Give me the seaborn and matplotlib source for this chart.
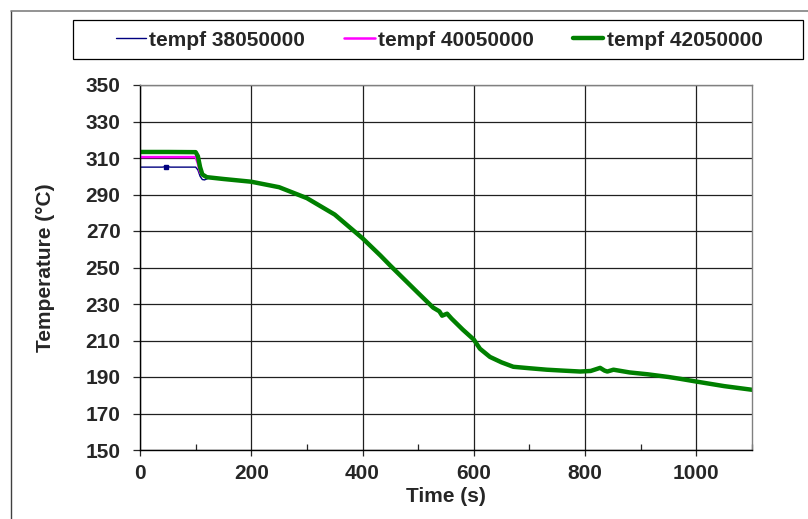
import matplotlib
matplotlib.use("Agg")
import matplotlib.pyplot as plt
from matplotlib.lines import Line2D
from matplotlib.patches import Rectangle
from matplotlib.ticker import MultipleLocator
import seaborn as sns
import pandas as pd

# data
t_38 = [0, 20, 40, 47, 55, 80, 100, 104, 108, 112, 116, 122, 130]
temp_38 = [305, 305, 305, 305.3, 305, 305, 305, 303.5, 300, 298.2, 298, 298.8, 299.2]

t_40 = [0, 50, 100, 104, 108, 114, 122, 130]
temp_40 = [310.5, 310.5, 310.5, 307, 302, 300, 299.5, 299.2]

t_42 = [0, 50, 100, 104, 108, 112, 120, 150, 200, 250, 300, 350, 400, 432,
        450, 500, 527, 538, 543, 552, 560, 570, 580, 600, 611, 629, 650, 671,
        700, 731, 760, 791, 810, 827, 835, 840, 851, 880, 912, 950, 971, 1000,
        1050, 1100]
temp_42 = [313.3, 313.3, 313.2, 311, 305, 301, 299.5, 298.5, 297, 294, 288,
           279, 266, 256.6, 251, 236, 228, 226, 223.6, 224.7, 222, 219, 216,
           210.5, 205.5, 201, 198, 195.6, 194.8, 194, 193.5, 193, 193.3, 195,
           193.5, 193, 194, 192.5, 191.5, 190, 189, 187.5, 185, 183]

labels = ["tempf 38050000", "tempf 40050000", "tempf 42050000"]
colors = ["#000080", "#ff00ff", "#008000"]
widths = [1.0, 1.8, 3.2]
y_ticks = list(range(150, 351, 20))

sns.set_style("white")
plt.rcParams["font.family"] = ["Liberation Sans", "DejaVu Sans"]
plt.rcParams["font.weight"] = "bold"
fs = 15

fig = plt.figure(figsize=(8.08, 5.19), dpi=100)
ax = fig.add_axes([140 / 808, 1 - 450 / 519, 612 / 808, 365 / 519])

series = [(t_38, temp_38), (t_40, temp_40), (t_42, temp_42)]
for (t, v), lab, c, w in zip(series, labels, colors, widths):
    df = pd.DataFrame({"Time": t, "Temp": v})
    sns.lineplot(data=df, x="Time", y="Temp", ax=ax, color=c, lw=w, label=lab,
                 legend=False)
# little marker on the blue trace
ax.plot([t_38[3]], [temp_38[3]], marker="s", ms=2.5, color=colors[0], lw=0)

ax.set_xlim(0, 1100)
ax.set_ylim(150, 350)
ax.set_yticks(y_ticks)
ax.xaxis.set_major_locator(MultipleLocator(200))
ax.xaxis.set_minor_locator(MultipleLocator(100))
ax.grid(True, which="major", color="#202020", lw=0.9)
ax.set_axisbelow(True)

for s in ["left", "bottom"]:
    ax.spines[s].set_color("black")
    ax.spines[s].set_linewidth(1.0)
for s in ["top", "right"]:
    ax.spines[s].set_color("#808080")
    ax.spines[s].set_linewidth(1.0)

ax.tick_params(axis="y", which="major", direction="out", length=5,
               width=0.9, labelsize=fs, pad=9, left=True)
ax.tick_params(axis="x", which="major", direction="out", length=4,
               width=0.9, labelsize=fs, pad=6, bottom=True)
ax.tick_params(axis="x", which="minor", direction="in", length=4, width=0.9,
               bottom=True)
for lab in ax.get_xticklabels() + ax.get_yticklabels():
    lab.set_fontweight("bold")

ax.set_xlabel("Time (s)", fontsize=fs, fontweight="bold", labelpad=3)
ax.set_ylabel("Temperature (°C)", fontsize=fs, fontweight="bold", labelpad=22)

# legend box drawn as its own frame, entries centred in it
fig.add_artist(Rectangle((73 / 808, 1 - 59 / 519), 730 / 808, 39 / 519,
                         transform=fig.transFigure, fill=False,
                         edgecolor="black", lw=0.9))
handles = [Line2D([], [], color=c, lw=w) for c, w in zip(colors, widths)]
fig.legend(handles, labels, ncol=3, loc="center",
           bbox_to_anchor=(439 / 808, 1 - 40 / 519), frameon=False,
           prop={"size": fs, "weight": "bold"}, handlelength=1.45,
           handletextpad=0.15, columnspacing=1.9, borderpad=0)

# outer chart border (left and top visible)
fig.add_artist(Line2D([11 / 808, 11 / 808], [0, 1 - 11 / 519],
                      transform=fig.transFigure, color="#404040", lw=1))
fig.add_artist(Line2D([11 / 808, 1], [1 - 11 / 519, 1 - 11 / 519],
                      transform=fig.transFigure, color="#808080", lw=1.2))

fig.savefig("out.png", dpi=100)
